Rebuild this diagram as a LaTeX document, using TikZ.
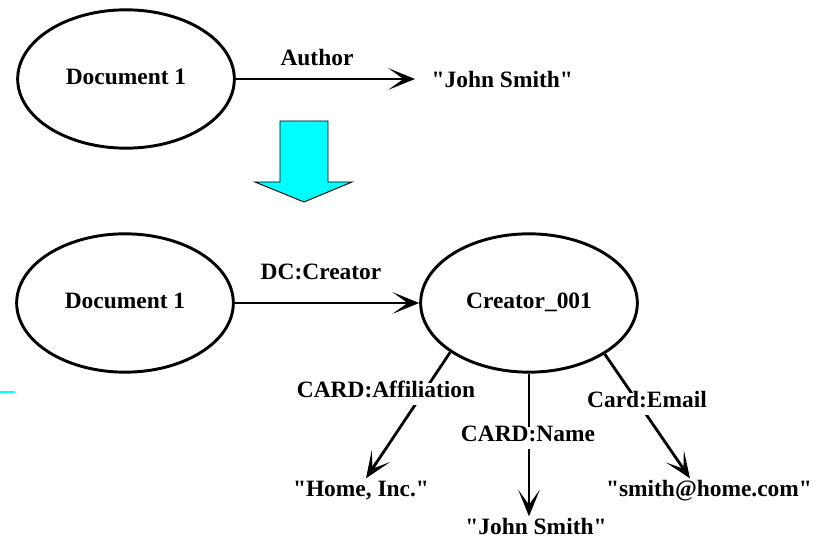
\documentclass[tikz,border=0pt]{standalone}
\usepackage{fontspec}
\setmainfont{Liberation Serif}[Ligatures=TeXOff]
\usepackage{tikz}
\usetikzlibrary{arrows.meta,calc,positioning,shapes.geometric}
\definecolor{cyanarrow}{HTML}{00FFFF}

\begin{document}
\begin{tikzpicture}[x=0.03cm,y=-0.03cm,
  every node/.style={font=\fontsize{20}{24}\selectfont\bfseries,text height=0.66em,text depth=0pt},
  res/.style={ellipse,draw,line width=2.5pt,minimum width=6.5cm,minimum height=4.15cm,text height=0.9em},
  val/.style={inner xsep=14pt,inner ysep=9pt},
  prop/.style={fill=white,inner xsep=2pt,inner ysep=6.5pt},
  link/.style={line width=2.4pt,arrows={-Stealth[length=8mm,width=6.5mm,inset=4.5mm,line width=1.4pt]}}]
  \useasboundingbox (0,0) rectangle (831,542);

  % simple statement
  \node[res] (doc1) at (126,79) {Document 1};
  \node[val,anchor=west] (smith1) at (415,84) {"John Smith"};
  \draw[link] (doc1.east) -- (doc1.east -| smith1.west);
  \node[prop] (author) at (317,62) {Author};

  % big arrow between the two
  \draw[fill=cyanarrow,line width=0.8pt] (280,121) -- (328,121) -- (328,182) -- (352,182)
    -- (304,202) -- (255,182) -- (280,182) -- cycle;
  \draw[cyanarrow,line width=2.5pt] (0,392) -- (15,392);

  % structured version
  \node[res] (doc2) at (125,303) {Document 1};
  \node[res] (creator) at (529,303) {Creator\_001};
  \draw[link] (doc2) -- (creator);
  \node[prop] (dc) at (321,276) {DC:Creator};

  \node[val] (home) at (361,493) {"Home, Inc."};
  \node[val] (smith2) at (536,531) {"John Smith"};
  \node[val] (mail) at (709,493) {"smith@home.com"};

  \draw[link] (creator.212) -- ($(home.north)+(5,0)$);
  \draw[link] (creator.south) -- (creator.south |- smith2.north);
  \draw[link] (creator.326) -- ($(mail.north)+(-19,0)$);

  \node[prop] (aff) at (386,394) {CARD:Affiliation};
  \node[prop] (cname) at (528,438) {CARD:Name};
  \node[prop] (email) at (647,404) {Card:Email};
\end{tikzpicture}
\end{document}
